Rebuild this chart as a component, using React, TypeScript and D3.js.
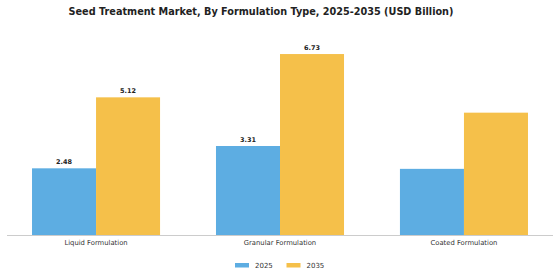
import * as d3 from 'd3';

const categories = ['Liquid Formulation', 'Granular Formulation', 'Coated Formulation'];
const seriesNames = ['2025', '2035'];
const values2025 = [2.48, 3.31, 2.46];
const values2035 = [5.12, 6.73, 4.55];
// only some bars carry a label in the source
const showLabel2025 = [true, true, false];
const showLabel2035 = [true, true, false];
const colors = ['#5dade2', '#f5c04a'];

const width = 560;
const height = 280;
const baseY = 235;
const topY = 45;

export default function App() {
  const x0 = d3.scaleBand<string>()
    .domain(categories)
    .range([7, 553])
    .paddingInner(0.304)
    .paddingOuter(0.136);

  const x1 = d3.scaleBand<string>()
    .domain(seriesNames)
    .range([0, x0.bandwidth()])
    .padding(0);

  const maxVal = d3.max([...values2025, ...values2035]) || 1;
  const y = d3.scaleLinear().domain([0, maxVal * 1.05]).range([baseY, topY]);

  const series = [
    { name: seriesNames[0], values: values2025, labels: showLabel2025, color: colors[0] },
    { name: seriesNames[1], values: values2035, labels: showLabel2035, color: colors[1] },
  ];

  return (
    <svg
      width={width}
      height={height}
      style={{ position: 'absolute', left: 0, top: 0, background: '#fff' }}
      fontFamily="DejaVu Sans"
    >
      <text x={261} y={14.5} textAnchor="middle" fontSize={9.7} fontWeight="bold" fill="#222">
        Seed Treatment Market, By Formulation Type, 2025-2035 (USD Billion)
      </text>

      {categories.map((cat, i) => (
        <g key={cat} transform={'translate(' + x0(cat) + ',0)'}>
          {series.map(s => (
            <g key={s.name}>
              <rect
                x={x1(s.name)}
                y={y(s.values[i])}
                width={x1.bandwidth()}
                height={baseY - y(s.values[i])}
                fill={s.color}
              />
              {s.labels[i] && (
                <text
                  x={(x1(s.name) || 0) + x1.bandwidth() / 2}
                  y={y(s.values[i]) - 4}
                  textAnchor="middle"
                  fontSize={6.5}
                  fontWeight="bold"
                  fill="#222"
                >
                  {s.values[i].toFixed(2)}
                </text>
              )}
            </g>
          ))}
        </g>
      ))}

      <line x1={7} x2={553} y1={baseY + 0.5} y2={baseY + 0.5} stroke="#cccccc" strokeWidth={1} />

      {categories.map(cat => (
        <text
          key={cat}
          x={(x0(cat) || 0) + x0.bandwidth() / 2}
          y={245}
          textAnchor="middle"
          fontSize={6.8}
          fill="#333"
        >
          {cat}
        </text>
      ))}

      {series.map((s, i) => (
        <g key={s.name} transform={'translate(' + (235 + i * 51.5) + ',0)'}>
          <rect x={0} y={263} width={14} height={4.5} fill={s.color} />
          <text x={20} y={268} fontSize={7} fill="#333">{s.name}</text>
        </g>
      ))}
    </svg>
  );
}
